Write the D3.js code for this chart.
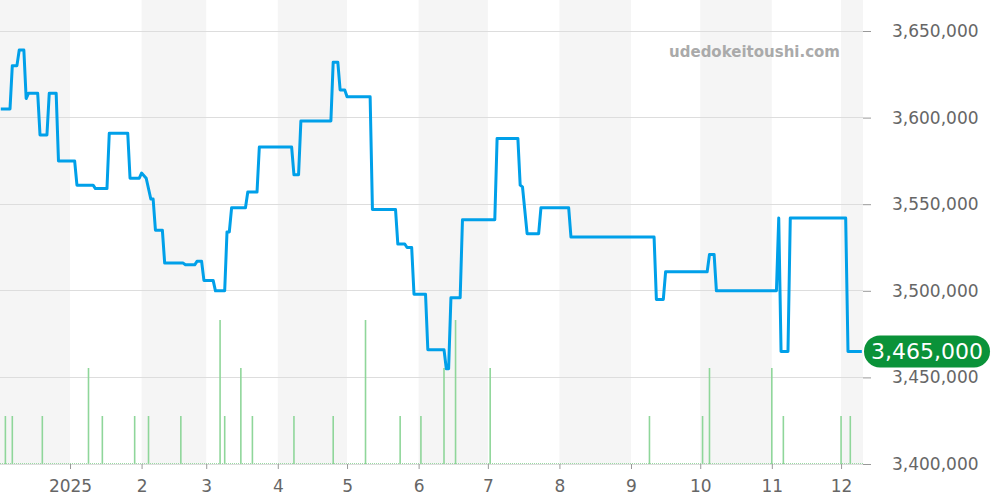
<!DOCTYPE html>
<html>
<head>
<meta charset="utf-8">
<script src="https://cdn.jsdelivr.net/npm/d3@7"></script>
<style>
  html, body { margin: 0; padding: 0; background: #fff; }
  svg { display: block; font-family: "DejaVu Sans", sans-serif; }
</style>
</head>
<body>
<svg id="chart" width="1000" height="500"></svg>
<script>
// ---------- data ----------
const priceDates = [
  "2024-12-02","2024-12-06","2024-12-07","2024-12-09","2024-12-10","2024-12-12","2024-12-13","2024-12-14",
  "2024-12-18","2024-12-19","2024-12-22","2024-12-23","2024-12-26","2024-12-27","2025-01-03","2025-01-04",
  "2025-01-11","2025-01-12","2025-01-17","2025-01-18","2025-01-26","2025-01-27","2025-01-31","2025-02-01",
  "2025-02-03","2025-02-05","2025-02-06","2025-02-07","2025-02-10","2025-02-11","2025-02-19","2025-02-20",
  "2025-02-24","2025-02-25","2025-02-27","2025-02-28","2025-03-04","2025-03-05","2025-03-09","2025-03-10",
  "2025-03-11","2025-03-12","2025-03-18","2025-03-19","2025-03-23","2025-03-24","2025-04-07","2025-04-08",
  "2025-04-10","2025-04-11","2025-04-24","2025-04-25","2025-04-27","2025-04-28","2025-04-30","2025-05-01",
  "2025-05-11","2025-05-12","2025-05-22","2025-05-23","2025-05-26","2025-05-27","2025-05-29","2025-05-30",
  "2025-06-04","2025-06-05","2025-06-12","2025-06-13","2025-06-14","2025-06-15","2025-06-19","2025-06-20",
  "2025-07-04","2025-07-05","2025-07-14","2025-07-15","2025-07-16","2025-07-18","2025-07-23","2025-07-24",
  "2025-08-05","2025-08-06","2025-09-11","2025-09-12","2025-09-15","2025-09-16","2025-10-04","2025-10-05",
  "2025-10-07","2025-10-08","2025-11-03","2025-11-04","2025-11-05","2025-11-08","2025-11-09","2025-12-03",
  "2025-12-04","2025-12-10"
];
const priceValues = [
  3605000,3605000,3630000,3630000,3639000,3639000,3611000,3614000,
  3614000,3590000,3590000,3614000,3614000,3575000,3575000,3561000,
  3561000,3559000,3559000,3591000,3591000,3565000,3565000,3568000,
  3565000,3553000,3553000,3535000,3535000,3516000,3516000,3515000,
  3515000,3517000,3517000,3506000,3506000,3500000,3500000,3534000,
  3534000,3548000,3548000,3557000,3557000,3583000,3583000,3567000,
  3567000,3598000,3598000,3632000,3632000,3616000,3616000,3612000,
  3612000,3547000,3547000,3527000,3527000,3525000,3525000,3498000,
  3498000,3466000,3466000,3455000,3455000,3496000,3496000,3541000,
  3541000,3588000,3588000,3561000,3560000,3533000,3533000,3548000,
  3548000,3531000,3531000,3495000,3495000,3511000,3511000,3521000,
  3521000,3500000,3500000,3542000,3465000,3465000,3542000,3542000,
  3465000,3465000
];
const volumeDates = [
  "2024-12-04","2024-12-07","2024-12-20","2025-01-09","2025-01-15","2025-01-29","2025-02-04","2025-02-18",
  "2025-03-07","2025-03-09","2025-03-16","2025-03-21","2025-04-08","2025-04-25","2025-05-09","2025-05-24",
  "2025-06-02","2025-06-12","2025-06-17","2025-07-02","2025-09-09","2025-10-02","2025-10-05","2025-11-01",
  "2025-11-06","2025-12-01","2025-12-05"
];
const volumeValues = [
  1,1,1,2,1,1,1,1,
  3,1,2,1,1,1,3,1,
  1,2,3,2,1,1,2,2,
  1,1,1
];
const yTickValues = [3400000, 3450000, 3500000, 3550000, 3600000, 3650000];
const monthTicks = ["2025-01-01","2025-02-01","2025-03-01","2025-04-01","2025-05-01","2025-06-01",
                    "2025-07-01","2025-08-01","2025-09-01","2025-10-01","2025-11-01","2025-12-01"];
const shadedMonths = ["2024-12-01","2025-02-01","2025-04-01","2025-06-01","2025-08-01","2025-10-01","2025-12-01"];
const domainStart = "2024-12-01T16:00";
const domainEnd = "2025-12-10T12:00";
const lastPrice = 3465000;
const watermark = "udedokeitoushi.com";

// ---------- setup ----------
const parseDay = d3.timeParse("%Y-%m-%d");
const parseDT = d3.timeParse("%Y-%m-%dT%H:%M");
const svg = d3.select("#chart");
const plotLeft = 0, plotRight = 863, plotTop = 31, plotBottom = 464;

const x = d3.scaleTime()
  .domain([parseDT(domainStart), parseDT(domainEnd)])
  .range([plotLeft, plotRight]);
const y = d3.scaleLinear()
  .domain([3400000, 3650000])
  .range([plotBottom, plotTop]);
const yVol = d3.scaleLinear()
  .domain([0, 3])
  .range([plotBottom, plotBottom - 144]);

// shaded month bands
svg.append("g").selectAll("rect")
  .data(shadedMonths.map(parseDay))
  .join("rect")
  .attr("x", d => Math.max(plotLeft, x(d)))
  .attr("width", d => Math.min(plotRight, x(d3.timeMonth.offset(d, 1))) - Math.max(plotLeft, x(d)))
  .attr("y", 0)
  .attr("height", plotBottom)
  .attr("fill", "#f5f5f5");

// horizontal grid
svg.append("g").selectAll("line")
  .data(yTickValues)
  .join("line")
  .attr("x1", plotLeft).attr("x2", plotRight)
  .attr("y1", d => y(d)).attr("y2", d => y(d))
  .attr("stroke", "#dddddd").attr("stroke-width", 1)
  .attr("shape-rendering", "crispEdges");

// watermark
svg.append("text")
  .attr("x", 840).attr("y", 57)
  .attr("text-anchor", "end")
  .attr("font-size", 15).attr("font-weight", "bold")
  .attr("fill", "#aaaaaa")
  .text(watermark);

// volume baseline (dotted)
svg.append("line")
  .attr("x1", plotLeft).attr("x2", plotRight)
  .attr("y1", plotBottom - 0.5).attr("y2", plotBottom - 0.5)
  .attr("stroke", "#9ad9a4").attr("stroke-width", 1)
  .attr("stroke-dasharray", "1,1");

// volume bars
svg.append("g").selectAll("line")
  .data(volumeDates.map((d, i) => ({ date: parseDay(d), v: volumeValues[i] })))
  .join("line")
  .attr("x1", d => x(d.date)).attr("x2", d => x(d.date))
  .attr("y1", plotBottom).attr("y2", d => yVol(d.v))
  .attr("stroke", "#8fd69a").attr("stroke-width", 1.6);

// price line
const priceData = priceDates.map((d, i) => ({ date: parseDay(d), v: priceValues[i] }));
svg.append("path")
  .datum(priceData)
  .attr("fill", "none")
  .attr("stroke", "#00a0e9")
  .attr("stroke-width", 3)
  .attr("stroke-linejoin", "round")
  .attr("stroke-linecap", "butt")
  .attr("d", d3.line().x(d => x(d.date)).y(d => y(d.v)));

// right y axis
const yAxis = d3.axisRight(y)
  .tickValues(yTickValues)
  .tickSize(8)
  .tickPadding(21)
  .tickFormat(d3.format(","));
const yg = svg.append("g")
  .attr("transform", `translate(${plotRight},0)`)
  .call(yAxis);
yg.select(".domain").remove();
yg.selectAll(".tick line").attr("stroke", "#999999");
yg.selectAll(".tick text")
  .attr("font-size", 17)
  .attr("font-family", "DejaVu Sans, sans-serif")
  .attr("fill", "#666666");

// bottom x axis
const xAxis = d3.axisBottom(x)
  .tickValues(monthTicks.map(parseDay))
  .tickSize(5)
  .tickPadding(11)
  .tickFormat(d => d.getMonth() === 0 ? d3.timeFormat("%Y")(d) : String(d.getMonth() + 1));
const xg = svg.append("g")
  .attr("transform", `translate(0,${plotBottom})`)
  .call(xAxis);
xg.select(".domain").remove();
xg.selectAll(".tick line").attr("stroke", "#999999");
xg.selectAll(".tick text")
  .attr("font-size", 17)
  .attr("font-family", "DejaVu Sans, sans-serif")
  .attr("fill", "#666666");

// last price label
const ly = y(lastPrice);
const lbl = svg.append("g").attr("transform", `translate(864,${ly})`);
lbl.append("rect")
  .attr("x", 0).attr("y", -16)
  .attr("width", 126).attr("height", 32)
  .attr("rx", 16).attr("ry", 16)
  .attr("fill", "#0a9239");
lbl.append("text")
  .attr("x", 63).attr("y", 0).attr("dy", "0.36em")
  .attr("text-anchor", "middle")
  .attr("font-size", 22)
  .attr("fill", "#ffffff")
  .text(d3.format(",")(lastPrice));
</script>
</body>
</html>
